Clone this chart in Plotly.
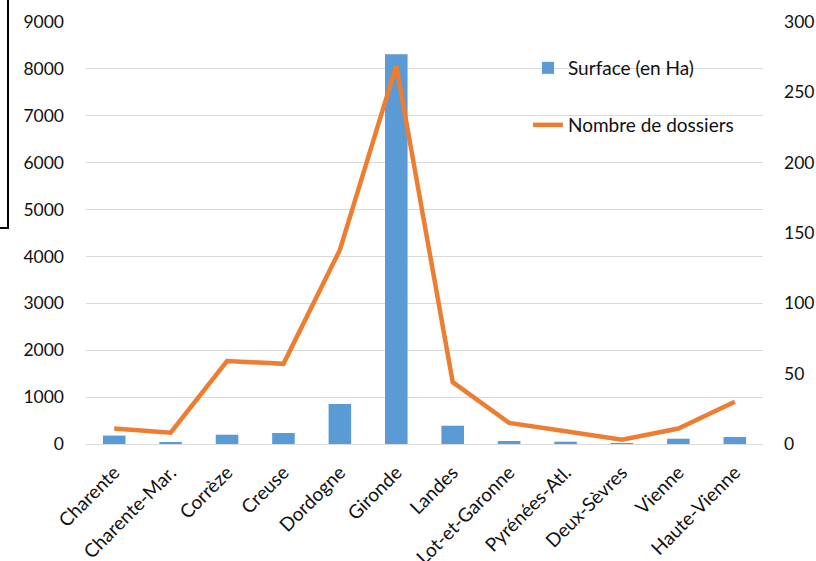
import plotly.graph_objects as go

categories = ["Charente", "Charente-Mar.", "Corrèze", "Creuse", "Dordogne", "Gironde",
              "Landes", "Lot-et-Garonne", "Pyrénées-Atl.", "Deux-Sèvres", "Vienne", "Haute-Vienne"]
surface = [180, 30, 198, 235, 853, 8310, 390, 64, 50, 20, 113, 150]
dossiers = [11, 8, 59, 57, 138, 269, 44, 15, 9, 3, 11, 30]

left_ticks = [0, 1000, 2000, 3000, 4000, 5000, 6000, 7000, 8000, 9000]
right_ticks = [0, 50, 100, 150, 200, 250, 300]

FONT = "Lato"
FS = 19
FSY = 17.5
W, H = 816, 561
ml, mr, mt, mb = 86, 53, 22, 117
pw, ph = W - ml - mr, H - mt - mb

def px_x(x):
    return (x - ml) / pw

def px_y(y):
    return (H - mb - y) / ph

fig = go.Figure()
fig.add_trace(go.Bar(x=categories, y=surface, name="Surface (en Ha)",
                     marker=dict(color="#5B9BD5", line=dict(width=0)),
                     legend="legend", yaxis="y"))
fig.add_trace(go.Scatter(x=categories, y=dossiers, name="Nombre de dossiers",
                         mode="lines", line=dict(color="#ED7D31", width=4.5),
                         legend="legend2", yaxis="y2"))

fig.update_layout(
    width=W, height=H,
    margin=dict(l=ml, r=mr, t=mt, b=mb, autoexpand=False),
    paper_bgcolor="white", plot_bgcolor="white",
    font=dict(family=FONT, size=FS, color="#111111"),
    bargap=0.6,
    xaxis=dict(tickangle=-45, showgrid=False, showline=True, linecolor="#D9D9D9",
               linewidth=1, ticks="", ticklabelstandoff=9, tickfont=dict(size=FS)),
    yaxis=dict(range=[0, 9000], tickvals=left_ticks, showgrid=True, gridcolor="#D9D9D9",
               gridwidth=1, zeroline=False, ticks="", ticklabelstandoff=21,
               tickfont=dict(size=FSY)),
    yaxis2=dict(range=[0, 300], tickvals=right_ticks, overlaying="y", side="right",
                showgrid=False, zeroline=False, ticks="", ticklabelstandoff=20,
                tickfont=dict(size=FSY)),
    legend=dict(x=px_x(528), y=px_y(68), xanchor="left", yanchor="middle",
                bgcolor="rgba(0,0,0,0)", font=dict(size=FS)),
    legend2=dict(x=px_x(528), y=px_y(125), xanchor="left", yanchor="middle",
                 bgcolor="rgba(0,0,0,0)", font=dict(size=FS)),
    showlegend=True,
)

fig.add_shape(type="path", xref="paper", yref="paper",
              path=f"M {px_x(8)} {px_y(-2)} L {px_x(8)} {px_y(228)} L {px_x(-2)} {px_y(228)}",
              line=dict(color="black", width=2))

fig.write_html("out.html", config={"displayModeBar": False},
               post_script="document.body.style.margin='0';")
